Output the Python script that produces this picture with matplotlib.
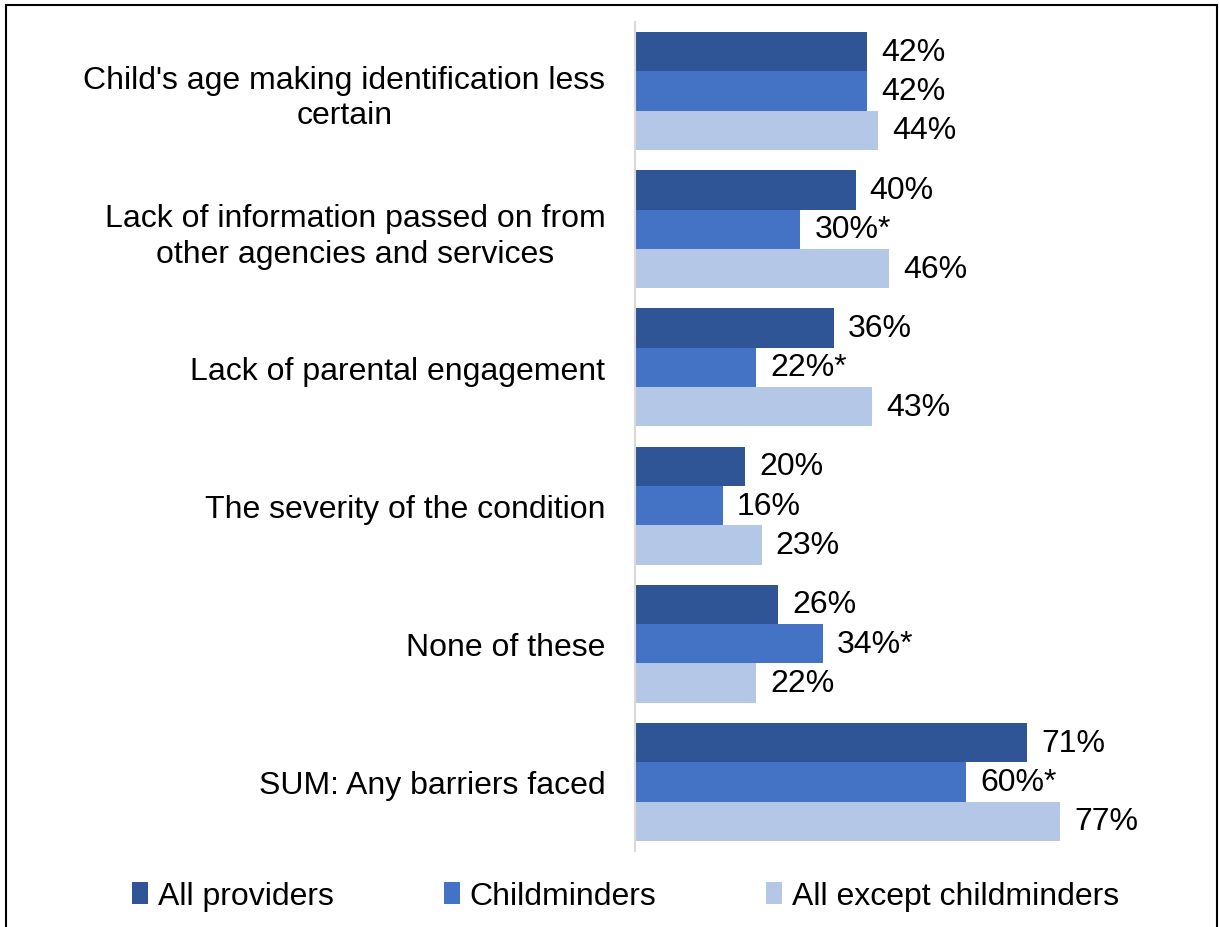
import matplotlib
matplotlib.use("Agg")
import matplotlib.pyplot as plt
from matplotlib.patches import Rectangle, Patch
import numpy as np

plt.rcParams['font.family'] = ['Liberation Sans', 'DejaVu Sans']

categories = [
    "Child's age making identification less\ncertain",
    "Lack of information passed on from\nother agencies and services",
    "Lack of parental engagement",
    "The severity of the condition",
    "None of these",
    "SUM: Any barriers faced",
]
series_names = ["All providers", "Childminders", "All except childminders"]
all_providers = [42, 40, 36, 20, 26, 71]
childminders = [42, 30, 22, 16, 34, 60]
all_except = [44, 46, 43, 23, 22, 77]
childminder_sig = [False, True, True, False, True, True]

colors = ["#2F5597", "#4472C4", "#B4C7E7"]

W, H = 1220, 928
fig = plt.figure(figsize=(W / 100, H / 100), dpi=100)
ax = fig.add_axes([634.5 / W, (H - 852) / H, (1077 - 634.5) / W, (852 - 23) / H])

n = len(categories)
y = np.arange(n)
bh = 0.285
series = [all_providers, childminders, all_except]
fs = 23

for i, (vals, col) in enumerate(zip(series, colors)):
    pos = y + (i - 1) * bh
    ax.barh(pos, vals, height=bh, color=col, edgecolor='none', label=series_names[i])
    for j, (p, v) in enumerate(zip(pos, vals)):
        txt = f"{v}%"
        if i == 1 and childminder_sig[j]:
            txt += "*"
        ax.annotate(txt, (v, p), xytext=(14, 0), textcoords='offset pixels',
                    va='center', ha='left', fontsize=fs, color='black')

ax.set_xlim(0, 80)
ax.set_ylim(n - 0.5, -0.5)
ax.set_yticks(y)
ax.set_yticklabels(categories, fontsize=fs, ha='right', multialignment='center',
                   linespacing=1.25)
ax.tick_params(axis='y', length=0, pad=21)
ax.set_xticks([])
for s in ['top', 'right', 'bottom']:
    ax.spines[s].set_visible(False)
ax.spines['left'].set_color('#D9D9D9')
ax.spines['left'].set_linewidth(1.5)

handles = [Patch(facecolor=c, edgecolor='none') for c in colors]
fig.legend(handles, series_names, loc='center left', bbox_to_anchor=(132 / W, 1 - 897 / H),
           ncol=3, frameon=False, fontsize=fs, handlelength=0.5, handleheight=0.7,
           handletextpad=0.3, columnspacing=3.45, borderaxespad=0, borderpad=0)

fig.patches.append(Rectangle((6 / W, -0.01), (1217 - 6) / W, 1 - 6 / H + 0.01,
                             transform=fig.transFigure, fill=False,
                             edgecolor='black', linewidth=1.5))

fig.savefig("out.png", dpi=100)
